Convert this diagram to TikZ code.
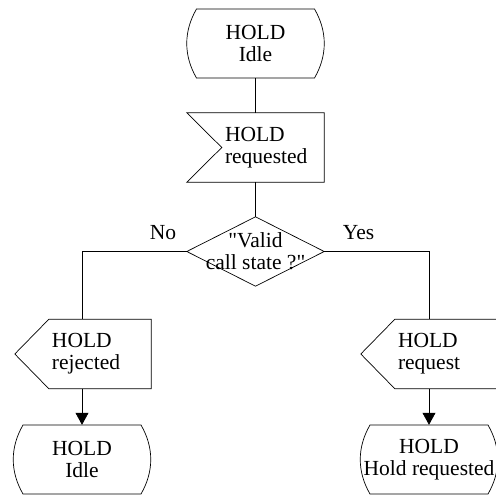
\documentclass[tikz,border=0pt]{standalone}
\usepackage{fontspec}
\setmainfont{Liberation Serif}[Ligatures=TeXOff]
\usetikzlibrary{calc,positioning,arrows.meta}
\tikzset{>={Triangle[width=13pt,length=12pt]}}
\tikzset{
  state/.style={minimum height=69pt, inner sep=0pt, align=center},
  sigbody/.style={minimum height=69pt, text width=96pt, inner xsep=3pt, inner ysep=0pt, align=left},
  decision/.style={minimum width=137pt, minimum height=69pt, inner sep=0pt, align=center},
  line/.style={line width=0.7pt}
}

\begin{document}
\begin{tikzpicture}[x=1pt,y=-1pt,font=\fontsize{21.5}{21.7}\selectfont]
\useasboundingbox (0,0) rectangle (496,495);
\node[state] (idle) at (255.5,43.5) {HOLD\\Idle};
\node[sigbody] (req) at (273,147.5) {HOLD\\requested};
\node[decision] (valid) at (255.5,251.5) {"Valid\\call state ?"};
\node[sigbody] (rej) at (100,354) {HOLD\\rejected};
\node[sigbody] (hreq) at (446,354) {HOLD\\request};
\node[state] (idleL) at (82,459.5) {HOLD\\Idle};
\node[state] (held) at (429,459.5) {HOLD\\Hold requested};

% state outlines
\foreach \n in {idle,idleL,held}
  \draw[line,shift={(\n.center)}] (-59,-34.5) -- (59,-34.5) .. controls (72,-12) and (72,12) .. (59,34.5) -- (-59,34.5) .. controls (-72,12) and (-72,-12) .. (-59,-34.5) -- cycle;
% input and output signals
\draw[line] ($(req.north west)+(-35,0)$) -- (req.north east) -- (req.south east) -- ($(req.south west)+(-35,0)$) -- (req.west) -- cycle;
\foreach \n in {rej,hreq}
  \draw[line] (\n.north west) -- (\n.north east) -- (\n.south east) -- (\n.south west) -- ($(\n.west)+(-34,0)$) -- cycle;
\draw[line] (valid.north) -- (valid.east) -- (valid.south) -- (valid.west) -- cycle;

% connectors
\draw[line] (idle.south) -- (idle.south |- req.north);
\draw[line] (valid.north |- req.south) -- (valid.north);
\draw[line] (valid.west) node[above left=8.5pt and 7pt] (no) {No} -| (idleL.north |- rej.north);
\draw[line] (valid.east) node[above right=8.5pt and 15pt] (yes) {Yes} -| (held.north |- hreq.north);
\draw[line,->] (idleL.north |- rej.south) -- (idleL.north);
\draw[line,->] (held.north |- hreq.south) -- (held.north);
\end{tikzpicture}
\end{document}
